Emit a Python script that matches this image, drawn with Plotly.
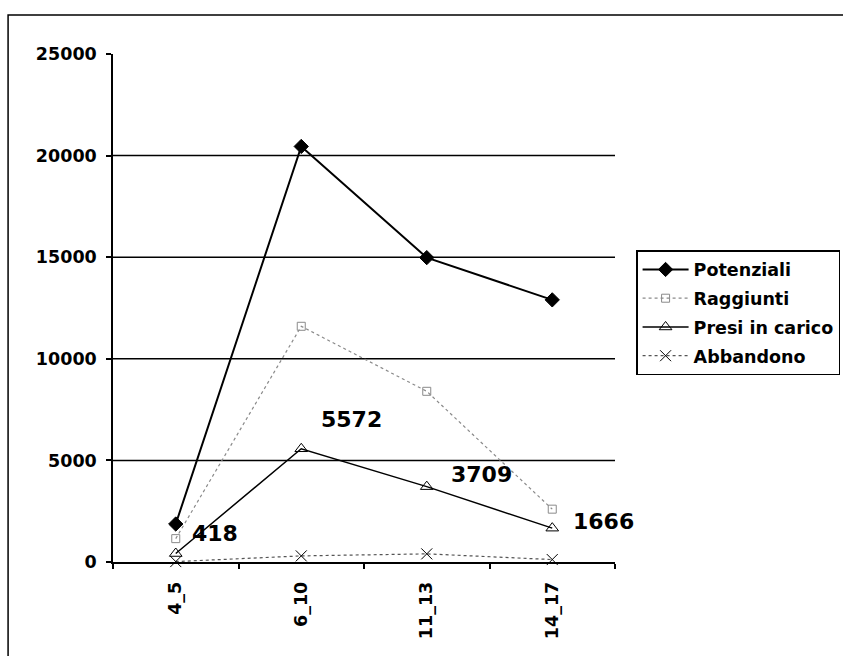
import plotly.graph_objects as go

# Age bands and series values
categories = ["4_5", "6_10", "11_13", "14_17"]
potenziali = [1870, 20450, 14980, 12900]
raggiunti = [1150, 11600, 8400, 2600]
presi_in_carico = [418, 5572, 3709, 1666]
abbandono = [20, 300, 400, 120]

y_ticks = [0, 5000, 10000, 15000, 20000, 25000]
y_tick_labels = ["0", "5000", "10000", "15000", "20000", "25000"]
grid_levels = [5000, 10000, 15000, 20000]

# Pixel offsets of the value labels from their points
label_dx = [39, 50, 55, 51]
label_dy = [20, 29, 12, 7]

FONT = "DejaVu Sans"

fig = go.Figure()

series = [
    ("Potenziali", potenziali,
     dict(color="black", width=2, dash="solid"),
     dict(symbol="diamond", size=11, color="black", line=dict(color="black", width=1))),
    ("Raggiunti", raggiunti,
     dict(color="#8a8a8a", width=1.2, dash="dot"),
     dict(symbol="square-open", size=8, color="#8a8a8a", line=dict(color="#8a8a8a", width=1))),
    ("Presi in carico", presi_in_carico,
     dict(color="black", width=1.5, dash="solid"),
     dict(symbol="triangle-up-open", size=11, color="black", line=dict(color="black", width=1))),
    ("Abbandono", abbandono,
     dict(color="#555555", width=1.2, dash="dot"),
     dict(symbol="x-thin-open", size=11, color="black", line=dict(color="black", width=1))),
]

for i, (name, vals, line, marker) in enumerate(series):
    fig.add_trace(go.Scatter(
        x=categories, y=vals, name=name, mode="lines+markers",
        line=line, marker=marker, legendgroup=f"g{i}",
        cliponaxis=False,
    ))

# Horizontal reference lines
for lvl in grid_levels:
    fig.add_shape(type="line", xref="paper", yref="y", x0=0, x1=1, y0=lvl, y1=lvl,
                  line=dict(color="black", width=1.5), layer="below")

# Value labels for "Presi in carico"
for cat, val, dx, dy in zip(categories, presi_in_carico, label_dx, label_dy):
    fig.add_annotation(x=cat, y=val, text=f"<b>{val}</b>", showarrow=False,
                       xshift=dx, yshift=dy,
                       font=dict(family=FONT, size=22, color="black"))

# Outer frame of the chart
fig.add_shape(type="rect", xref="paper", yref="paper",
              x0=-0.209, x1=1.5, y0=-0.3, y1=1.077,
              line=dict(color="black", width=1.5), fillcolor="rgba(0,0,0,0)")

fig.update_layout(
    width=843, height=656,
    margin=dict(l=113, r=228, t=54, b=94, autoexpand=False),
    paper_bgcolor="white", plot_bgcolor="white",
    font=dict(family=FONT, size=17, color="black"),
    showlegend=True,
    legend=dict(
        x=1.042, y=0.614, xanchor="left", yanchor="top",
        bordercolor="black", borderwidth=1.5, bgcolor="white",
        font=dict(family=FONT, size=17.5, color="black", weight="bold"),
        traceorder="grouped", tracegroupgap=3,
        itemwidth=46,
    ),
    xaxis=dict(
        type="category", range=[-0.5, 3.5],
        showgrid=False, zeroline=False,
        showline=True, linecolor="black", linewidth=1.5,
        ticks="outside", ticklen=5, tickwidth=1.5, tickcolor="black",
        tickson="boundaries", tickangle=-90,
        ticklabelstandoff=11,
        tickfont=dict(family=FONT, size=17.5, color="black", weight="bold"),
    ),
    yaxis=dict(
        range=[0, 25000], tickvals=y_ticks, ticktext=y_tick_labels,
        showgrid=False, zeroline=False,
        showline=True, linecolor="black", linewidth=1.5,
        ticks="outside", ticklen=5, tickwidth=1.5, tickcolor="black",
        ticklabelstandoff=6,
        tickfont=dict(family=FONT, size=17.5, color="black", weight="bold"),
    ),
)

fig.write_html("out.html")
